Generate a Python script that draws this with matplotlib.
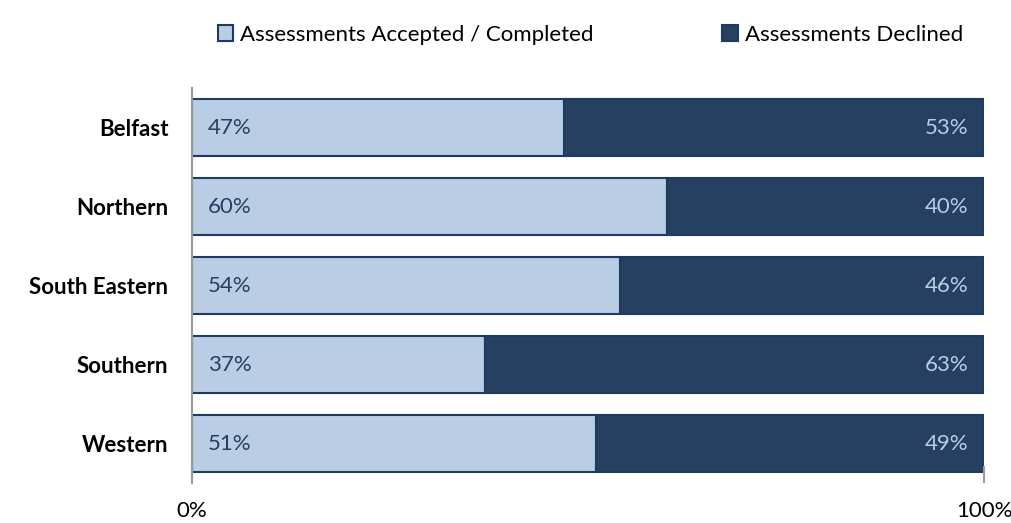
import matplotlib as mpl
mpl.use('Agg')
from matplotlib import pyplot as plt
import numpy as np

mpl.rcParams['font.family'] = ['Lato', 'DejaVu Sans']
mpl.rcParams['font.size'] = 16

regions = ['Belfast', 'Northern', 'South Eastern', 'Southern', 'Western']
accepted = [47, 60, 54, 37, 51]
declined = [53, 40, 46, 63, 49]

light = '#B9CDE5'
dark = '#254061'
edge = '#1F3A5F'

fig = plt.figure(figsize=(10.12, 5.23), dpi=100)
ax = fig.add_axes([192/1012, 1-483/523, 792/1012, 395/523])

y = np.arange(len(regions))
h = 0.71
ax.barh(y, accepted, height=h, color=light, edgecolor=edge, linewidth=1.5,
        label='Assessments Accepted / Completed')
ax.barh(y, declined, left=accepted, height=h, color=dark, edgecolor=edge, linewidth=1.5,
        label='Assessments Declined')

for i in range(len(regions)):
    ax.text(2, y[i], '%d%%' % accepted[i], ha='left', va='center', color=dark, fontsize=16)
    ax.text(98, y[i], '%d%%' % declined[i], ha='right', va='center', color=light, fontsize=16)

ax.set_xlim(0, 100)
ax.set_ylim(len(regions)-0.5, -0.5)
ax.set_yticks(y)
ax.set_yticklabels(regions, fontweight='bold', fontsize=16)
ax.set_xticks([0, 100])
ax.set_xticklabels(['0%', '100%'], fontsize=16)

for s in ['top', 'right', 'bottom']:
    ax.spines[s].set_visible(False)
ax.spines['left'].set_color('#999999')
ax.spines['left'].set_linewidth(1.5)
ax.tick_params(axis='y', length=0, pad=17)
ax.tick_params(axis='x', direction='in', length=12, color='#999999', width=1.5, pad=13)

ax.legend(loc='upper center', bbox_to_anchor=(0.503, 1.21), ncol=2, frameon=False,
          handlelength=0.7, handleheight=0.7, handletextpad=0.3, columnspacing=5.8,
          fontsize=16)

plt.savefig('out.png', dpi=100)
